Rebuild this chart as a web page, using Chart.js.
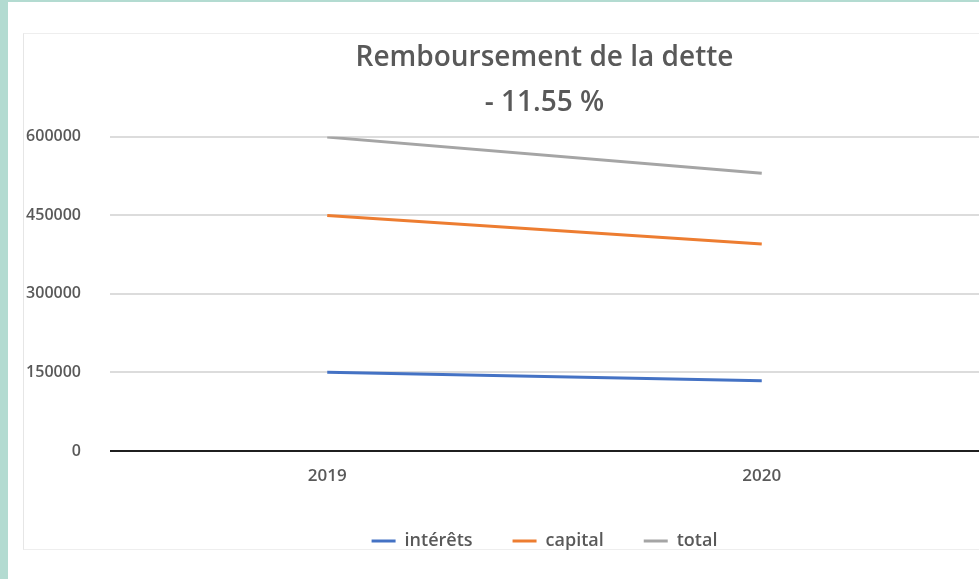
<!DOCTYPE html>
<html>
<head>
<meta charset="utf-8">
<script src="https://cdn.jsdelivr.net/npm/chart.js@4"></script>
<style>
  html, body { margin: 0; padding: 0; }
  body {
    width: 979px; height: 579px; overflow: hidden; position: relative;
    background: #fff;
  }
  .strip-left { position: absolute; left: 0; top: 0; width: 8px; height: 579px; background: #b3dbd1; }
  .strip-top { position: absolute; left: 0; top: 0; width: 979px; height: 2px; background: #b3dbd1; }
  .panel {
    position: absolute; left: 23px; top: 33px; width: 956px; height: 517px;
    border-left: 1px solid #e6e6e6; border-top: 1px solid #eeeeee; border-bottom: 1px solid #eeeeee;
    box-sizing: border-box;
  }
  .wrap { position: absolute; left: 24px; top: 34px; width: 955px; height: 545px; }
</style>
</head>
<body>
<div class="strip-left"></div>
<div class="strip-top"></div>
<div class="panel"></div>
<div class="wrap"><canvas id="detteChart"></canvas></div>
<script>
const years = ['2019', '2020'];
const interets = [150500, 134000];
const capital = [449500, 395000];
const total = [599000, 530000];
const yTicks = [0, 150000, 300000, 450000, 600000];

Chart.defaults.font.family = "'Open Sans', sans-serif";
Chart.defaults.color = '#595959';

const ctx = document.getElementById('detteChart').getContext('2d');

const detteChart = new Chart(ctx, {
    type: 'line',
    data: {
        labels: years,
        datasets: [{
            label: 'intérêts',
            data: interets,
            borderColor: '#4472c4',
            backgroundColor: '#4472c4',
            borderWidth: 3,
            pointRadius: 0,
            pointStyle: 'line'
        }, {
            label: 'capital',
            data: capital,
            borderColor: '#ed7d31',
            backgroundColor: '#ed7d31',
            borderWidth: 3,
            pointRadius: 0,
            pointStyle: 'line'
        }, {
            label: 'total',
            data: total,
            borderColor: '#a5a5a5',
            backgroundColor: '#a5a5a5',
            borderWidth: 3,
            pointRadius: 0,
            pointStyle: 'line'
        }]
    },
    options: {
        responsive: true,
        maintainAspectRatio: false,
        animation: false,
        layout: {
            padding: { top: 0, left: 0, right: 0, bottom: 19 }
        },
        plugins: {
            title: {
                display: true,
                fullSize: false,
                text: ['Remboursement de la dette', '- 11.55 %'],
                color: '#595959',
                font: { size: 28, weight: '600', lineHeight: 1.6 },
                padding: { top: 2, bottom: 11 }
            },
            legend: {
                position: 'bottom',
                fullSize: false,
                labels: {
                    usePointStyle: true,
                    pointStyleWidth: 24,
                    boxWidth: 24,
                    padding: 40,
                    color: '#595959',
                    font: { size: 18, weight: '600' }
                }
            },
            tooltip: { enabled: false }
        },
        scales: {
            x: {
                offset: true,
                grid: { display: false, drawTicks: false },
                border: { display: false },
                ticks: {
                    padding: 15,
                    color: '#595959',
                    font: { size: 17, weight: '600' }
                },
                afterFit: (scale) => { scale.height = 41; }
            },
            y: {
                min: 0,
                max: 600000,
                afterBuildTicks: (scale) => {
                    scale.ticks = yTicks.map(v => ({ value: v }));
                },
                border: { display: false },
                grid: {
                    drawTicks: false,
                    color: (c) => c.tick && c.tick.value === 0 ? '#1f1f1f' : '#dcdcdc',
                    lineWidth: 2
                },
                ticks: {
                    padding: 29,
                    color: '#595959',
                    font: { size: 16, weight: '600' },
                    callback: (value) => value.toString()
                },
                afterFit: (scale) => { scale.width = 86; }
            }
        }
    }
});
</script>
</body>
</html>
